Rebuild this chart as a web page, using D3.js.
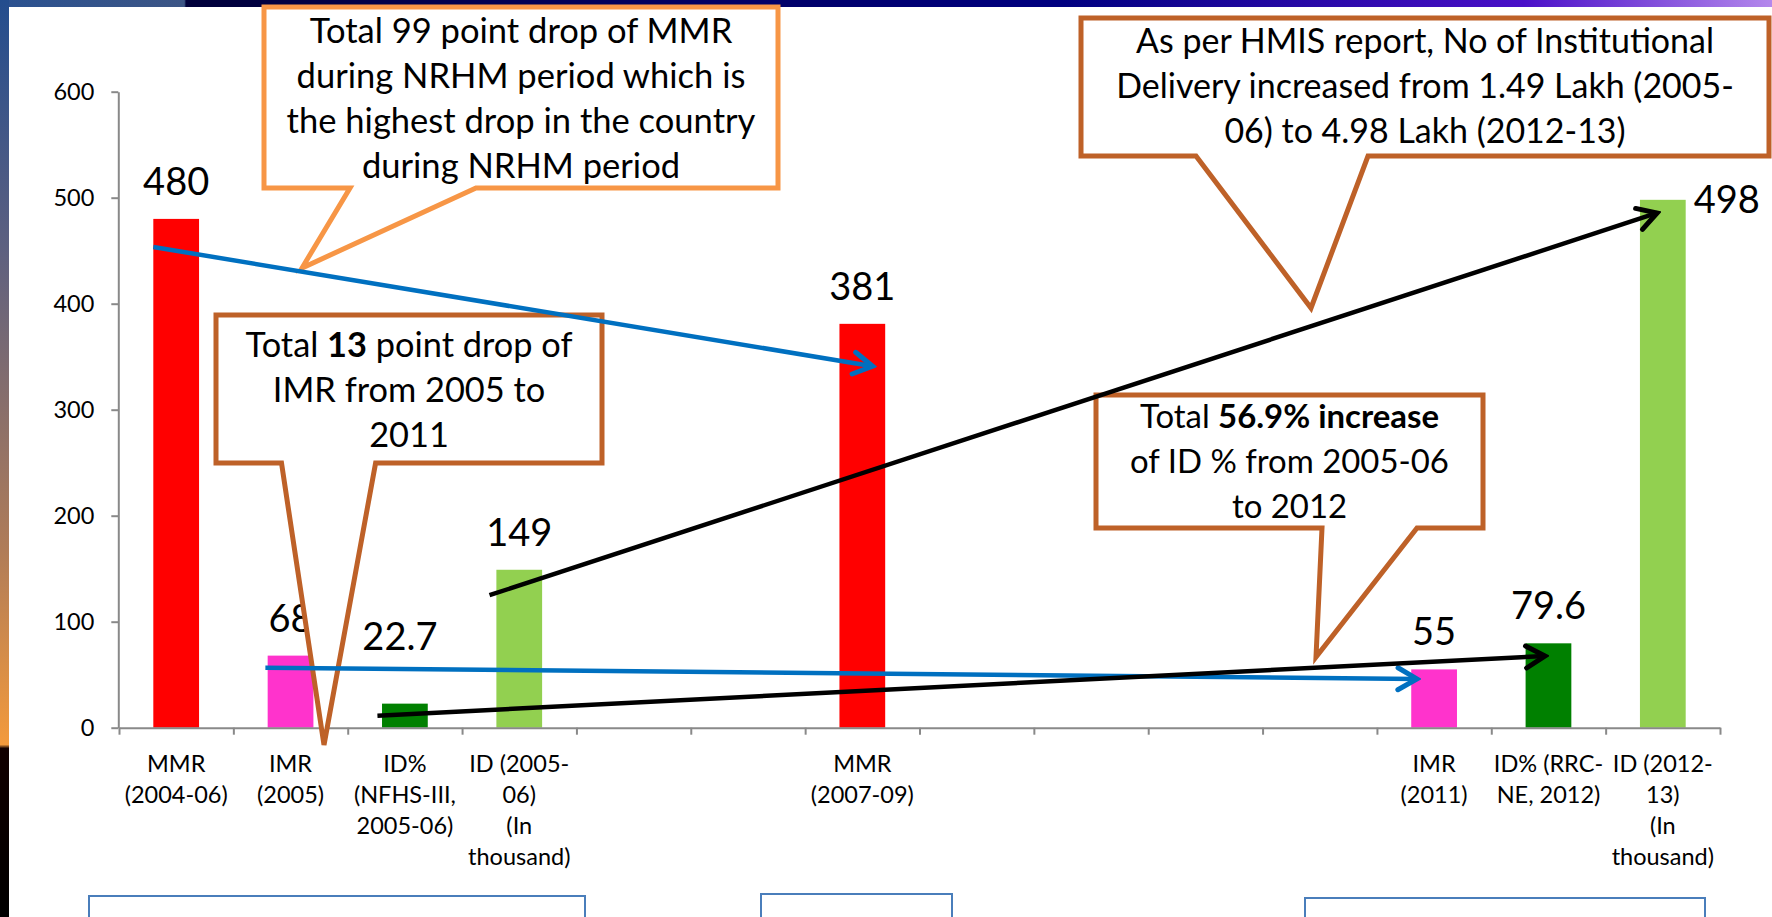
<!DOCTYPE html>
<html>
<head>
<meta charset="utf-8">
<script src="https://cdn.jsdelivr.net/npm/d3@7/dist/d3.min.js"></script>
<style>
  body { margin: 0; background: #fff; }
  svg { display: block; font-family: Lato, "Open Sans", sans-serif; }
  text { white-space: pre; }
</style>
</head>
<body>
<svg width="1772" height="917"></svg>
<script>
// ---- data ----
var categories = [
  ["MMR", "(2004-06)"],
  ["IMR", "(2005)"],
  ["ID%", "(NFHS-III,", "2005-06)"],
  ["ID (2005-", "06)", "(In", "thousand)"],
  [], [],
  ["MMR", "(2007-09)"],
  [], [], [], [],
  ["IMR", "(2011)"],
  ["ID% (RRC-", "NE, 2012)"],
  ["ID (2012-", "13)", "(In", "thousand)"]
];
var values = [480, 68, 22.7, 149, null, null, 381, null, null, null, null, 55, 79.6, 498];
var labels = ["480", "68", "22.7", "149", "", "", "381", "", "", "", "", "55", "79.6", "498"];
var kinds  = ["MMR", "IMR", "ID%", "ID", "", "", "MMR", "", "", "", "", "IMR", "ID%", "ID"];
var yTicks = [0, 100, 200, 300, 400, 500, 600];

// callout texts (** ** = bold)
var noteMMR  = ["Total 99 point drop of MMR", "during NRHM period which is", "the highest drop in the country", "during NRHM period"];
var noteIMR  = ["Total **13** point drop of", "IMR from 2005 to", "2011"];
var noteHMIS = ["As per HMIS report, No of Institutional", "Delivery increased from 1.49 Lakh (2005-", "06) to 4.98 Lakh (2012-13)"];
var noteID   = ["Total **56.9% increase**", "of ID % from 2005-06", "to 2012"];

// trend arrows: [slot position, value] -> [slot position, value]
var arrowMMR  = [[0.30, 453.5], [6.59, 341]];
var arrowIMR  = [[1.28, 56.6], [11.35, 46]];
var arrowIDp  = [[2.26, 11.3], [12.47, 67.6]];
var arrowID   = [[3.24, 125], [13.45, 485.6]];

// ---- styles / layout ----
var colors = { "MMR": "#FF0000", "IMR": "#FF33CC", "ID%": "#008000", "ID": "#92D050" };
var axisColor = "#898989";

var svg = d3.select("svg");
var defs = svg.append("defs");

// slide frame strips
var topG = defs.append("linearGradient").attr("id", "topStrip");
[[0, "#2a5190"], [0.104, "#3c5585"], [0.105, "#00003a"], [0.6, "#000080"], [0.86, "#4a10c8"], [1, "#b488ec"]]
  .forEach(function(s) { topG.append("stop").attr("offset", s[0]).attr("stop-color", s[1]); });
var leftG = defs.append("linearGradient").attr("id", "leftStrip")
  .attr("x1", 0).attr("y1", 0).attr("x2", 0).attr("y2", 1);
[[0, "#234d8e"], [0.27, "#5d6080"], [0.6, "#b07c58"], [0.812, "#f39a3c"], [0.816, "#120000"], [1, "#000000"]]
  .forEach(function(s) { leftG.append("stop").attr("offset", s[0]).attr("stop-color", s[1]); });

svg.append("rect").attr("x", 0).attr("y", 0).attr("width", 1772).attr("height", 7).attr("fill", "url(#topStrip)");
svg.append("rect").attr("x", 0).attr("y", 0).attr("width", 9).attr("height", 917).attr("fill", "url(#leftStrip)");

// scales
var x = d3.scaleBand().domain(d3.range(categories.length)).range([119, 1720])
  .paddingInner(0.6).paddingOuter(0.3);
var pos = d3.scaleLinear().domain([0, categories.length]).range([119, 1720]);
var y = d3.scaleLinear().domain([0, 600]).range([727.7, 91.7]);

var bars = values.map(function(v, i) { return { i: i, v: v, kind: kinds[i], label: labels[i] }; })
  .filter(function(d) { return d.v != null; });

// bars
svg.append("g").selectAll("rect").data(bars).enter().append("rect")
  .attr("x", function(d) { return x(d.i); })
  .attr("y", function(d) { return y(d.v); })
  .attr("width", x.bandwidth())
  .attr("height", function(d) { return y(0) - y(d.v); })
  .attr("fill", function(d) { return colors[d.kind]; });

// y axis
var yAxis = svg.append("g").attr("transform", "translate(118.3,0)")
  .call(d3.axisLeft(y).tickValues(yTicks).tickSize(7).tickSizeOuter(0).tickPadding(17));
yAxis.selectAll("path, line").attr("stroke", axisColor).attr("stroke-width", 2);
yAxis.selectAll("text").attr("font-family", "Lato").attr("font-size", 23.5).attr("fill", "#000")
  .attr("dy", "0.35em");

// x axis: ticks on the slot boundaries
var xAxis = svg.append("g").attr("transform", "translate(0," + y(0) + ")")
  .call(d3.axisBottom(pos).tickValues(d3.range(categories.length + 1)).tickSize(7).tickSizeOuter(0)
    .tickFormat(""));
xAxis.selectAll("path, line").attr("stroke", axisColor).attr("stroke-width", 2);

// category labels
var cat = svg.append("g").selectAll("text").data(categories).enter().append("text")
  .attr("text-anchor", "middle").attr("font-size", 23.5).attr("fill", "#000")
  .attr("transform", function(d, i) { return "translate(" + (x(i) + x.bandwidth() / 2) + ",771.7)"; });
cat.selectAll("tspan").data(function(d) { return d; }).enter().append("tspan")
  .attr("x", 0).attr("y", function(d, j) { return j * 31; })
  .text(function(d) { return d; });

// value labels (two were moved by hand on the slide)
var labelPlace = { 2: { dx: -5, dy: -53.6 }, 13: { side: true } };
svg.append("g").selectAll("text").data(bars).enter().append("text")
  .attr("font-size", 38).attr("fill", "#000")
  .attr("text-anchor", function(d) { return labelPlace[d.i] && labelPlace[d.i].side ? "start" : "middle"; })
  .attr("x", function(d) {
    var p = labelPlace[d.i];
    if (p && p.side) return x(d.i) + x.bandwidth() + 8;
    return x(d.i) + x.bandwidth() / 2 + (p ? p.dx : 0);
  })
  .attr("y", function(d) {
    var p = labelPlace[d.i];
    if (p && p.side) return y(d.v) + 13;
    return y(d.v) + (p ? p.dy : -24);
  })
  .text(function(d) { return d.label; });

// callouts: box [x0,y0,x1,y1], pointer base [b1,b2], tip [tx,ty], baselines, widest line width
var callouts = [
  { lines: noteMMR,  color: "#F79646", box: [264, 7, 778, 188],   base: [350, 476],   tip: [302, 268],  first: 43,  fit: 469 },
  { lines: noteIMR,  color: "#BE6128", box: [216, 315, 602, 463], base: [281.5, 375.6], tip: [324, 745], first: 357, fit: 327 },
  { lines: noteHMIS, color: "#BE6128", box: [1081, 18, 1769, 156], base: [1196, 1368], tip: [1311, 308], first: 53,  fit: 618 },
  { lines: noteID,   color: "#BE6128", box: [1096, 395, 1483, 528], base: [1322, 1417], tip: [1316, 657], first: 428, fit: 319 }
];
var lineGap = 45;

function segments(line) {
  return line.split(/(\*\*[^*]+\*\*)/).filter(function(s) { return s.length; }).map(function(s) {
    return s.indexOf("**") === 0 ? { t: s.slice(2, -2), b: true } : { t: s, b: false };
  });
}

callouts.forEach(function(c) {
  var b = c.box;
  var path = d3.path();
  path.moveTo(b[0], b[1]);
  path.lineTo(b[2], b[1]);
  path.lineTo(b[2], b[3]);
  path.lineTo(c.base[1], b[3]);
  path.lineTo(c.tip[0], c.tip[1]);
  path.lineTo(c.base[0], b[3]);
  path.lineTo(b[0], b[3]);
  path.closePath();
  svg.append("path").attr("d", path.toString())
    .attr("fill", "#fff").attr("stroke", c.color).attr("stroke-width", 5).attr("stroke-linejoin", "miter");

  var cx = (b[0] + b[2]) / 2;
  var texts = c.lines.map(function(line, j) {
    var t = svg.append("text").attr("text-anchor", "middle").attr("x", cx)
      .attr("y", c.first + j * lineGap).attr("font-size", 31).attr("fill", "#000");
    t.selectAll("tspan").data(segments(line)).enter().append("tspan")
      .attr("font-weight", function(s) { return s.b ? "bold" : null; })
      .text(function(s) { return s.t; });
    return t;
  });
  var widest = d3.max(texts, function(t) { return t.node().getComputedTextLength(); });
  var fs = 31 * c.fit / widest;
  texts.forEach(function(t) { t.attr("font-size", fs); });
});

// arrow heads
["#0070C0", "#000000"].forEach(function(col, k) {
  defs.append("marker").attr("id", "head" + k)
    .attr("viewBox", "-24 -14 28 28").attr("refX", 0).attr("refY", 0)
    .attr("markerWidth", 28).attr("markerHeight", 28)
    .attr("markerUnits", "userSpaceOnUse").attr("orient", "auto")
    .append("path").attr("d", "M-19,-11L0,0L-19,11")
    .attr("fill", "none").attr("stroke", col).attr("stroke-width", 5).attr("stroke-linecap", "round");
});

var arrows = [
  { pts: arrowMMR, k: 0 }, { pts: arrowIMR, k: 0 },
  { pts: arrowIDp, k: 1 }, { pts: arrowID, k: 1 }
];
svg.append("g").selectAll("line").data(arrows).enter().append("line")
  .attr("x1", function(d) { return pos(d.pts[0][0]); })
  .attr("y1", function(d) { return y(d.pts[0][1]); })
  .attr("x2", function(d) { return pos(d.pts[1][0]); })
  .attr("y2", function(d) { return y(d.pts[1][1]); })
  .attr("stroke", function(d) { return d.k ? "#000" : "#0070C0"; })
  .attr("stroke-width", 4.5)
  .attr("marker-end", function(d) { return "url(#head" + d.k + ")"; });

// empty text boxes cut off at the bottom of the slide
var bottomBoxes = [[89, 896, 585], [761, 894, 952], [1305, 898, 1705]];
svg.append("g").selectAll("rect").data(bottomBoxes).enter().append("rect")
  .attr("x", function(d) { return d[0]; }).attr("y", function(d) { return d[1]; })
  .attr("width", function(d) { return d[2] - d[0]; }).attr("height", 60)
  .attr("fill", "#fff").attr("stroke", "#4A7EBB").attr("stroke-width", 2);
</script>
</body>
</html>
